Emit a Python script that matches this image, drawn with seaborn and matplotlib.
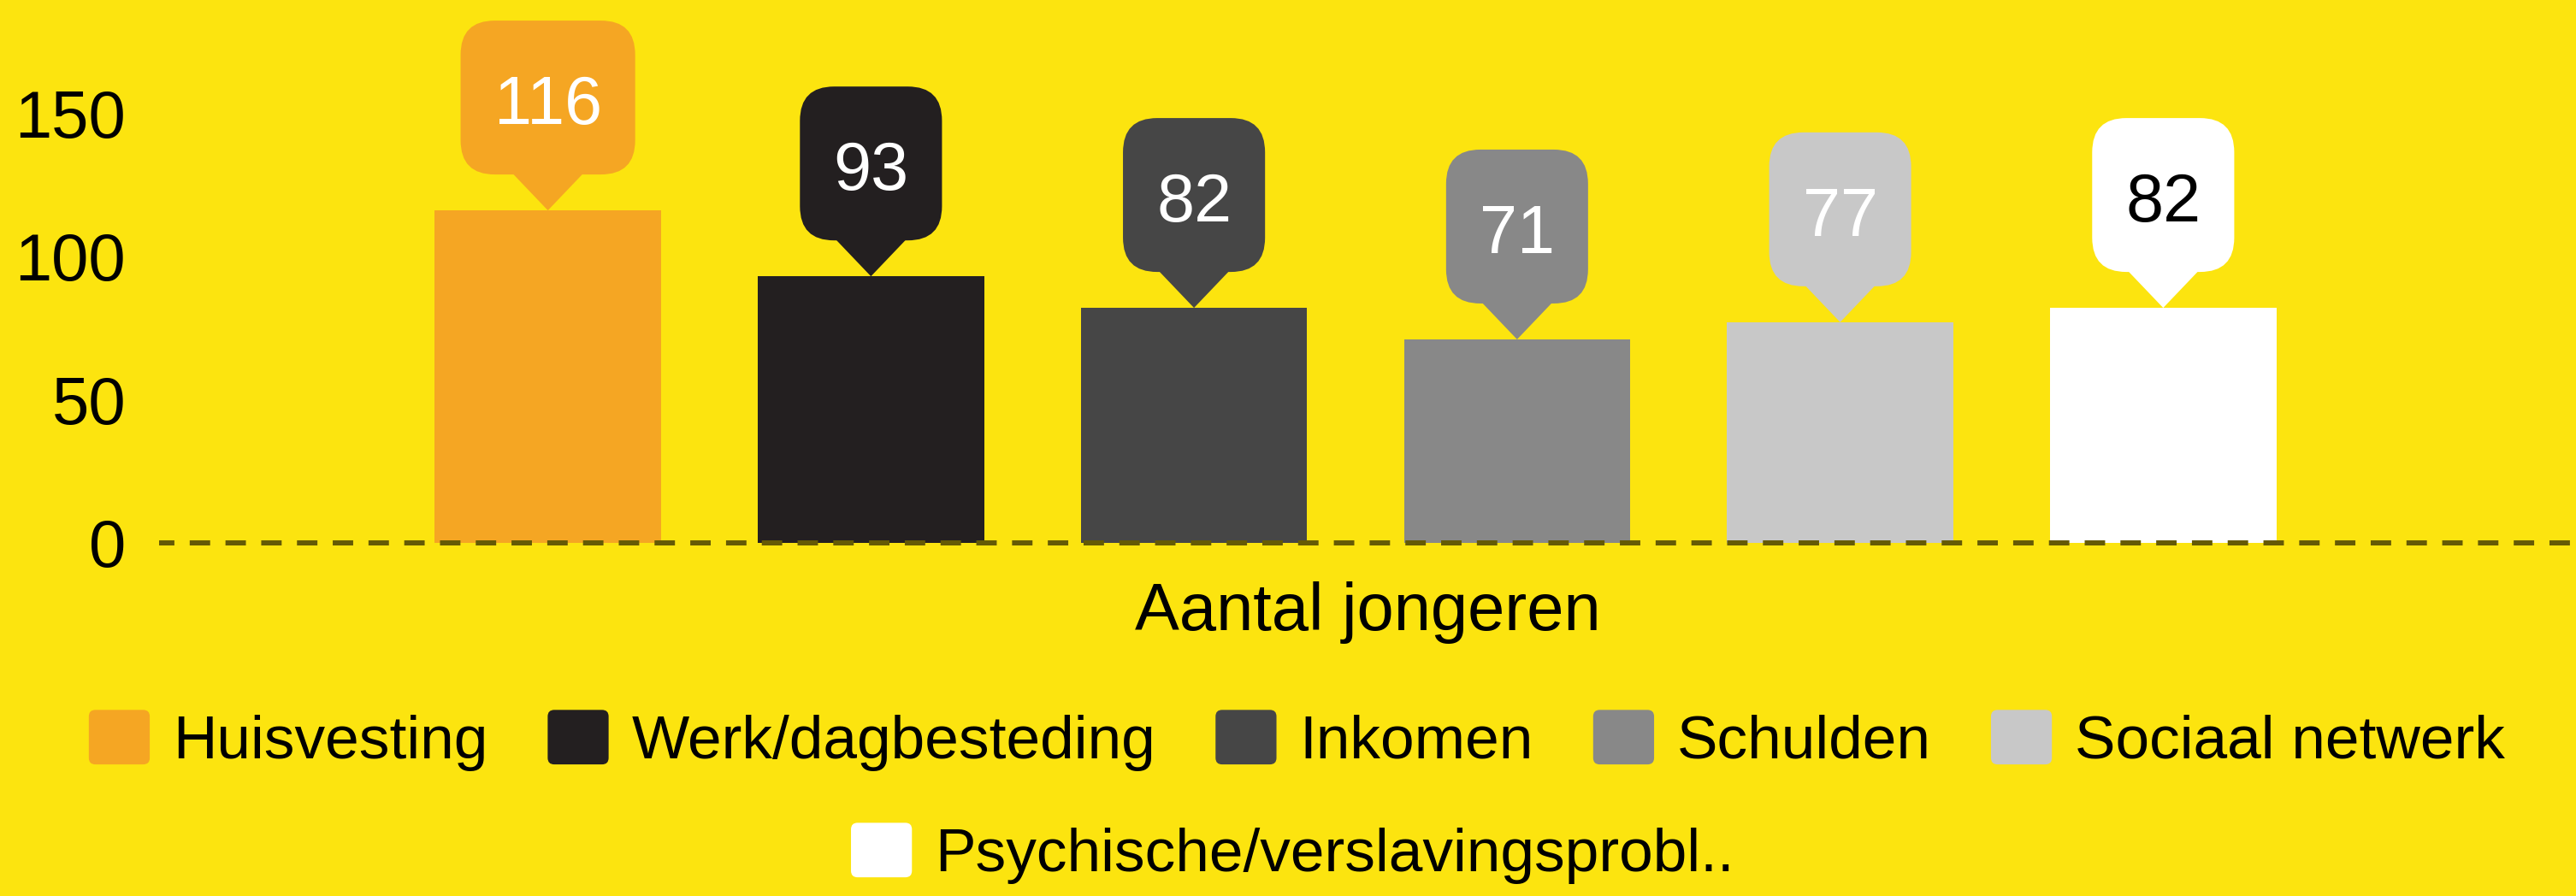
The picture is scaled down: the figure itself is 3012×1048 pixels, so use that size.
import seaborn as sns
import matplotlib.pyplot as plt
import pandas as pd
from matplotlib.patches import Patch, FancyBboxPatch, Polygon
from matplotlib.legend_handler import HandlerPatch
from matplotlib.transforms import IdentityTransform

problemen = ['Huisvesting', 'Werk/dagbesteding', 'Inkomen', 'Schulden',
             'Sociaal netwerk', 'Psychische/verslavingsprobl..']
aantallen = [116, 93, 82, 71, 77, 82]
kleuren = ['#f5a623', '#231f20', '#464646', '#888888', '#c8c8c8', '#ffffff']
tekstkleuren = ['white', 'white', 'white', 'white', 'white', 'black']
groep = 'Aantal jongeren'
yticks = [0, 50, 100, 150]

geel = '#fce40f'

sns.set_style('white')
plt.rcParams['font.family'] = ['Liberation Sans', 'DejaVu Sans']
plt.rcParams['text.color'] = 'black'

df = pd.DataFrame({'groep': [groep] * len(problemen),
                   'probleem': problemen,
                   'aantal': aantallen})

fig = plt.figure(figsize=(30.12, 10.48), dpi=100, facecolor=geel)
ax = fig.add_axes([186 / 3012, 413 / 1048, 2826 / 3012, 635 / 1048])
ax.set_facecolor(geel)

sns.barplot(data=df, x='groep', y='aantal', hue='probleem', hue_order=problemen,
            palette=kleuren, saturation=1, width=0.8, gap=0.3, legend=False,
            linewidth=0, edgecolor='none', ax=ax)

ax.set_xlim(-0.4938, 0.5037)
ax.set_ylim(0, 189.4)
ax.set_yticks(yticks)
ax.tick_params(axis='y', length=0, pad=28, labelsize=56, labelcolor='black')
ax.set_xticks([])
ax.set_ylabel('')
ax.set_xlabel(groep, fontsize=56, color='black')
ax.xaxis.label.set_va('baseline')
ax.xaxis.set_label_coords(0.5, -0.1606)
for s in ax.spines.values():
    s.set_visible(False)

ax.axhline(0, color='#655a05', lw=4.3, linestyle=(1, (4, 3)), clip_on=False, zorder=5)

# callouts boven de balken
fig.canvas.draw()
renderer = fig.canvas.get_renderer()
ident = IdentityTransform()
for cont, val, fc, tc in zip(ax.containers, aantallen, kleuren, tekstkleuren):
    bar = cont[0]
    px, py = ax.transData.transform((bar.get_x() + bar.get_width() / 2, bar.get_height()))
    t = ax.text(px, py + 101, str(val), transform=ident, ha='center', va='baseline',
                fontsize=57, color=tc, clip_on=False, zorder=7)
    w = t.get_window_extent(renderer).width + 78
    box = FancyBboxPatch((px - w / 2, py + 42), w, 180,
                         boxstyle='round,pad=0,rounding_size=40',
                         transform=ident, fc=fc, ec='none', clip_on=False, zorder=6)
    pointer = Polygon([(px - 42, py + 44), (px + 42, py + 44), (px, py)], closed=True,
                      transform=ident, fc=fc, ec='none', clip_on=False, zorder=6)
    ax.add_artist(box)
    ax.add_artist(pointer)


class RondHandler(HandlerPatch):
    def create_artists(self, legend, orig_handle, xdescent, ydescent, width, height,
                       fontsize, trans):
        p = FancyBboxPatch((-xdescent, -ydescent), width, height,
                           boxstyle='round,pad=0,rounding_size=%f' % (0.12 * height),
                           fc=orig_handle.get_facecolor(), ec='none', transform=trans)
        return [p]


handles = [Patch(facecolor=c, label=p) for p, c in zip(problemen, kleuren)]
opts = dict(loc='center', frameon=False, fontsize=51.3, handlelength=1.0, handleheight=1.0,
            handletextpad=0.38, columnspacing=0.98, borderpad=0, borderaxespad=0,
            labelcolor='black', handler_map={Patch: RondHandler()})
leg1 = fig.legend(handles=handles[:5], ncol=5, bbox_to_anchor=(1516.5 / 3012, 0.1737), **opts)
leg2 = fig.legend(handles=handles[5:], ncol=1, bbox_to_anchor=(1511.5 / 3012, 0.0477), **opts)

fig.savefig('out.png', dpi=100, facecolor=geel)
